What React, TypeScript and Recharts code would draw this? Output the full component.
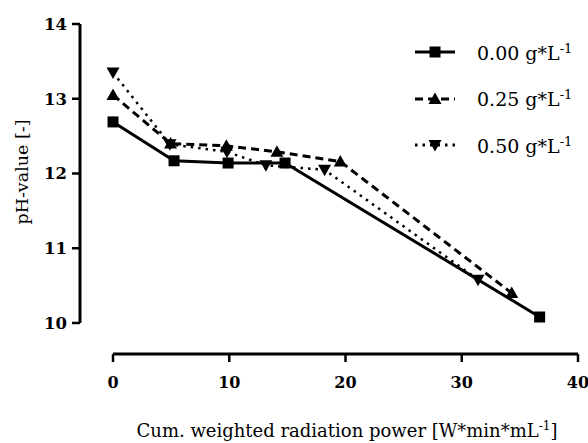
import React from "react";
import { LineChart, Line, XAxis, YAxis, ReferenceLine } from "recharts";

// Cum. weighted radiation power [W*min*mL^-1]
const X_000 = [0, 5.25, 9.9, 14.8, 36.7];
const PH_000 = [12.69, 12.17, 12.14, 12.14, 10.08];

const X_025 = [0, 4.95, 9.75, 14.1, 19.55, 34.3];
const PH_025 = [13.05, 12.4, 12.37, 12.29, 12.16, 10.4];

const X_050 = [0, 4.9, 9.8, 13.15, 18.2, 31.4];
const PH_050 = [13.35, 12.39, 12.29, 12.11, 12.05, 10.58];

const X_TICKS = [0, 10, 20, 30, 40];
const Y_TICKS = [10, 11, 12, 13, 14];

// axes are drawn offset from the data area (Prism style)
const X_MIN = -2.84;
const Y_MIN = 9.585;

const FONT = "'DejaVu Serif', 'Liberation Serif', serif";

const toRows = (xs: number[], ys: number[]) =>
  xs.map((x, i) => ({ x, y: ys[i] }));

const SERIES = [
  { name: "0.00", data: toRows(X_000, PH_000), dash: undefined, shape: "square" },
  { name: "0.25", data: toRows(X_025, PH_025), dash: "8 5", shape: "up" },
  { name: "0.50", data: toRows(X_050, PH_050), dash: "2.5 5", shape: "down" },
];

function Marker({ cx, cy, shape }: { cx: number; cy: number; shape: string }) {
  if (shape === "square")
    return <rect x={cx - 5.5} y={cy - 5.5} width={11} height={11} fill="#000" />;
  if (shape === "up")
    return (
      <polygon
        points={`${cx},${cy - 6.5} ${cx + 6.5},${cy + 5} ${cx - 6.5},${cy + 5}`}
        fill="#000"
      />
    );
  return (
    <polygon
      points={`${cx - 6.5},${cy - 5} ${cx + 6.5},${cy - 5} ${cx},${cy + 6.5}`}
      fill="#000"
    />
  );
}

// legend sits outside the svg so it doesn't eat into the plot area
function LegendBox() {
  return (
    <div
      style={{
        position: "absolute",
        left: 411,
        top: 29,
        fontFamily: FONT,
        color: "#000",
      }}
    >
      {SERIES.map((s) => (
        <div
          key={s.name}
          style={{ display: "flex", alignItems: "center", height: 46.5 }}
        >
          <svg width={66} height={20} style={{ flex: "none" }}>
            <line
              x1={4}
              x2={44}
              y1={10}
              y2={10}
              stroke="#000"
              strokeWidth={3}
              strokeDasharray={s.dash}
            />
            <Marker cx={24} cy={10} shape={s.shape} />
          </svg>
          <span style={{ fontSize: 19, whiteSpace: "nowrap", lineHeight: 1 }}>
            {s.name} g*L<sup style={{ fontSize: 13 }}>-1</sup>
          </span>
        </div>
      ))}
    </div>
  );
}

export default function App() {
  return (
    <div
      style={{
        position: "absolute",
        left: 0,
        top: 0,
        width: 588,
        height: 443,
        background: "#fff",
      }}
    >
      <LineChart
        width={588}
        height={443}
        margin={{ top: 24, right: 10, left: 0, bottom: 29 }}
      >
        <XAxis
          dataKey="x"
          type="number"
          domain={[X_MIN, 40]}
          ticks={X_TICKS}
          allowDataOverflow
          axisLine={false}
          tickLine={{ stroke: "#000", strokeWidth: 2.5 }}
          tickSize={8}
          tickMargin={15}
          height={60}
          tick={{ fill: "#000", fontSize: 16, fontWeight: 700, fontFamily: FONT }}
          label={{
            content: () => (
              <text
                x={347}
                y={437}
                textAnchor="middle"
                fontFamily={FONT}
                fontSize={18}
                fill="#000"
              >
                Cum. weighted radiation power [W*min*mL
                <tspan dy={-7} fontSize={12}>-1</tspan>
                <tspan dy={7}>]</tspan>
              </text>
            ),
          }}
        />
        <YAxis
          type="number"
          domain={[Y_MIN, 14]}
          ticks={Y_TICKS}
          allowDataOverflow
          width={80}
          axisLine={false}
          tickLine={{ stroke: "#000", strokeWidth: 2.5 }}
          tickSize={8}
          tickMargin={5}
          tick={{ fill: "#000", fontSize: 16.5, fontWeight: 700, fontFamily: FONT }}
          label={{
            content: () => (
              <text
                x={28}
                y={172}
                textAnchor="middle"
                transform="rotate(-90 28 172)"
                fontFamily={FONT}
                fontSize={17.5}
                fill="#000"
              >
                pH-value [-]
              </text>
            ),
          }}
        />
        <ReferenceLine
          segment={[
            { x: 0, y: Y_MIN },
            { x: 40, y: Y_MIN },
          ]}
          stroke="#000"
          strokeWidth={3}
          ifOverflow="visible"
        />
        <ReferenceLine
          segment={[
            { x: X_MIN, y: 10 },
            { x: X_MIN, y: 14 },
          ]}
          stroke="#000"
          strokeWidth={3}
          ifOverflow="visible"
        />
        {SERIES.map((s) => (
          <Line
            key={s.name}
            data={s.data}
            dataKey="y"
            name={s.name}
            stroke="#000"
            strokeWidth={s.dash === "2.5 5" ? 2.5 : 3}
            strokeDasharray={s.dash}
            isAnimationActive={false}
            dot={(p: any) => (
              <Marker key={p.index} cx={p.cx} cy={p.cy} shape={s.shape} />
            )}
            activeDot={false}
          />
        ))}
      </LineChart>
      <LegendBox />
    </div>
  );
}
